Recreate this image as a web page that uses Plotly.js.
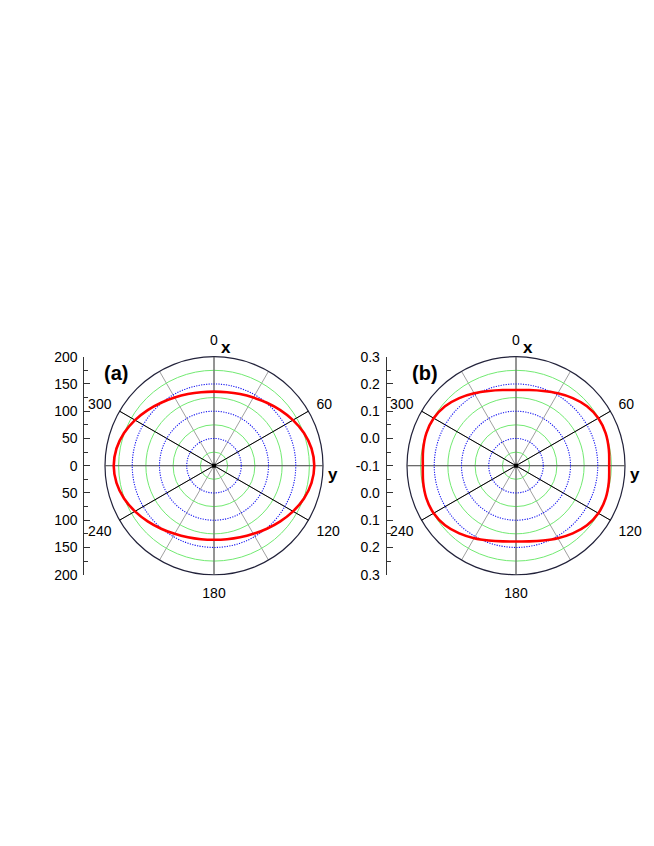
<!DOCTYPE html>
<html>
<head>
<meta charset="utf-8">
<script src="https://cdn.plot.ly/plotly-3.0.1.min.js"></script>
<style>
  html, body { margin: 0; padding: 0; background: #fff; }
  #chart { width: 654px; height: 846px; }
</style>
</head>
<body>
<div id="chart"></div>
<script>
// angle (deg, clockwise from x) of each sample of the red curves
const angles = [0, 10, 20, 30, 40, 50, 60, 70, 80, 90, 100, 110, 120, 130, 140, 150, 160, 170, 180,
                190, 200, 210, 220, 230, 240, 250, 260, 270, 280, 290, 300, 310, 320, 330, 340, 350, 360];

// panel (a): elliptical curve
const rA = [136, 137, 139.8, 144.4, 150.9, 158.8, 167.4, 175.7, 181.7, 184,
            181.7, 175.7, 167.4, 158.8, 150.9, 144.4, 139.8, 137, 136,
            137, 139.8, 144.4, 150.9, 158.8, 167.4, 175.7, 181.7, 184,
            181.7, 175.7, 167.4, 158.8, 150.9, 144.4, 139.8, 137, 136];

// panel (b): squarish curve
const rB = [0.178, 0.182, 0.192, 0.207, 0.224, 0.240, 0.249, 0.250, 0.246, 0.242,
            0.246, 0.250, 0.249, 0.240, 0.224, 0.207, 0.192, 0.182, 0.178,
            0.182, 0.192, 0.207, 0.224, 0.240, 0.249, 0.250, 0.246, 0.242,
            0.246, 0.250, 0.249, 0.240, 0.224, 0.207, 0.192, 0.182, 0.178];

const rangeA = [0, 200];
const greenRingsA = [25, 75, 125, 175];
const blueRingsA = [50, 100, 150];

const rangeB = [-0.1, 0.3];
const greenRingsB = [-0.05, 0.05, 0.15, 0.25];
const blueRingsB = [0, 0.1, 0.2];

const spokesAll = [0, 30, 60, 90, 120, 150, 180, 210, 240, 270, 300, 330];
const spokeLabels = ['0', '', '60', '', '120', '', '180', '', '240', '', '300', ''];
const spokesDark = [60, 120, 240, 300];
const spokesAxes = [0, 90, 180, 270];

// left-hand scales
const scaleA = [-200, -150, -100, -50, 0, 50, 100, 150, 200];
const scaleAText = ['200', '150', '100', '50', '0', '50', '100', '150', '200'];
const scaleB = [-0.4, -0.3, -0.2, -0.1, 0, 0.1, 0.2, 0.3, 0.4];
const scaleBText = ['0.3', '0.2', '0.1', '0.0', '-0.1', '0.0', '0.1', '0.2', '0.3'];

const FONT = 'Liberation Sans, Arial, sans-serif';
const W = 654, H = 846;
const px = v => v / W;
const py = v => 1 - v / H;

const R = 109;
const centers = [[214, 465.7], [516, 465.7]];

function polarDomain(c) {
    return { x: [px(c[0] - R), px(c[0] + R)], y: [py(c[1] + R), py(c[1] - R)] };
}

function basePolar(c, range, greenRings) {
    return {
        domain: polarDomain(c),
        bgcolor: 'rgba(0,0,0,0)',
        radialaxis: {
            range: range, tickmode: 'array', tickvals: greenRings,
            showticklabels: false, ticks: '', showline: false,
            gridcolor: '#72ea72', gridwidth: 1
        },
        angularaxis: {
            rotation: 90, direction: 'clockwise',
            tickmode: 'array', tickvals: spokesAll, ticktext: spokeLabels,
            ticks: 'outside', ticklen: 6, tickcolor: 'rgba(0,0,0,0)',
            gridcolor: '#a0a0a0', gridwidth: 1,
            showline: true, linecolor: '#22223a', linewidth: 1.2,
            tickfont: { family: FONT, size: 14, color: '#000' }
        }
    };
}

function overlayPolar(c, range, rings, ringStyle, spokes, spokeColor) {
    return {
        domain: polarDomain(c),
        bgcolor: 'rgba(0,0,0,0)',
        radialaxis: Object.assign({
            range: range, tickmode: 'array', tickvals: rings,
            showticklabels: false, ticks: '', showline: false,
            layer: 'below traces'
        }, ringStyle),
        angularaxis: {
            rotation: 90, direction: 'clockwise',
            tickmode: 'array', tickvals: spokes,
            showticklabels: false, ticks: '', showline: false,
            gridcolor: spokeColor, gridwidth: 1, layer: 'below traces'
        }
    };
}

const blueStyle = { gridcolor: '#1515f0', gridwidth: 1.1, griddash: '1.2px,1.3px' };
const noRings = { showgrid: false };

function scaleAxis(c, vals, text, range, minorStep) {
    return {
        domain: [py(c[1] + R), py(c[1] - R)],
        anchor: 'free', side: 'left',
        range: range, tickmode: 'array', tickvals: vals, ticktext: text,
        ticks: 'inside', ticklen: 6, tickcolor: '#333', tickwidth: 1,
        minor: { dtick: minorStep, tick0: 0, ticks: 'inside', ticklen: 4, tickcolor: '#333' },
        showline: true, linecolor: '#333', linewidth: 1,
        showgrid: false, zeroline: false, fixedrange: true,
        ticklabelstandoff: 3,
        tickfont: { family: FONT, size: 14, color: '#000' }
    };
}

function curve(subplot, r) {
    return {
        type: 'scatterpolar', subplot: subplot, r: r, theta: angles,
        mode: 'lines', line: { color: '#ff0000', width: 2.6, shape: 'spline' },
        hoverinfo: 'skip'
    };
}

function centerMark(subplot, r0) {
    return {
        type: 'scatterpolar', subplot: subplot, r: [r0], theta: [0],
        mode: 'markers', marker: { symbol: 'square', size: 4, color: '#000' },
        hoverinfo: 'skip'
    };
}

function empty(subplot) {
    return { type: 'scatterpolar', subplot: subplot, r: [], theta: [], hoverinfo: 'skip' };
}

const holderA = { type: 'scatter', x: [], y: [], xaxis: 'x', yaxis: 'y', hoverinfo: 'skip' };
const holderB = { type: 'scatter', x: [], y: [], xaxis: 'x2', yaxis: 'y2', hoverinfo: 'skip' };

const yA = scaleAxis(centers[0], scaleA, scaleAText, [-200, 200], 25);
yA.position = px(83.3);
const yB = scaleAxis(centers[1], scaleB, scaleBText, [-0.4, 0.4], 0.05);
yB.position = px(385.7);

function label(text, x, y, size) {
    return {
        text: text, x: px(x), y: py(y), xref: 'paper', yref: 'paper',
        showarrow: false, xanchor: 'center', yanchor: 'middle',
        font: { family: FONT, size: size, color: '#000', weight: 'bold' }
    };
}

const layout = {
    width: W, height: H,
    margin: { t: 0, b: 0, l: 0, r: 0 },
    paper_bgcolor: '#fff', plot_bgcolor: 'rgba(0,0,0,0)',
    showlegend: false,
    polar: basePolar(centers[0], rangeA, greenRingsA),
    polar2: overlayPolar(centers[0], rangeA, [], noRings, spokesAxes, '#5a5a5a'),
    polar3: overlayPolar(centers[0], rangeA, blueRingsA, blueStyle, spokesDark, '#000'),
    polar4: basePolar(centers[1], rangeB, greenRingsB),
    polar5: overlayPolar(centers[1], rangeB, [], noRings, spokesAxes, '#5a5a5a'),
    polar6: overlayPolar(centers[1], rangeB, blueRingsB, blueStyle, spokesDark, '#000'),
    xaxis: { visible: false, domain: [0, 0.1], fixedrange: true },
    xaxis2: { visible: false, domain: [0.5, 0.6], fixedrange: true },
    yaxis: yA,
    yaxis2: yB,
    annotations: [
        label('(a)', 116, 373, 20),
        label('(b)', 425, 373, 20),
        label('x', 226, 348, 17),
        label('y', 332.5, 474, 17),
        label('x', 527.5, 348, 17),
        label('y', 635, 474, 17)
    ]
};

const data = [
    holderA, holderB,
    empty('polar'), empty('polar2'), empty('polar4'), empty('polar5'),
    centerMark('polar3', rangeA[0]), curve('polar3', rA),
    centerMark('polar6', rangeB[0]), curve('polar6', rB)
];

Plotly.newPlot('chart', data, layout, { displayModeBar: false, staticPlot: true });
</script>
</body>
</html>
